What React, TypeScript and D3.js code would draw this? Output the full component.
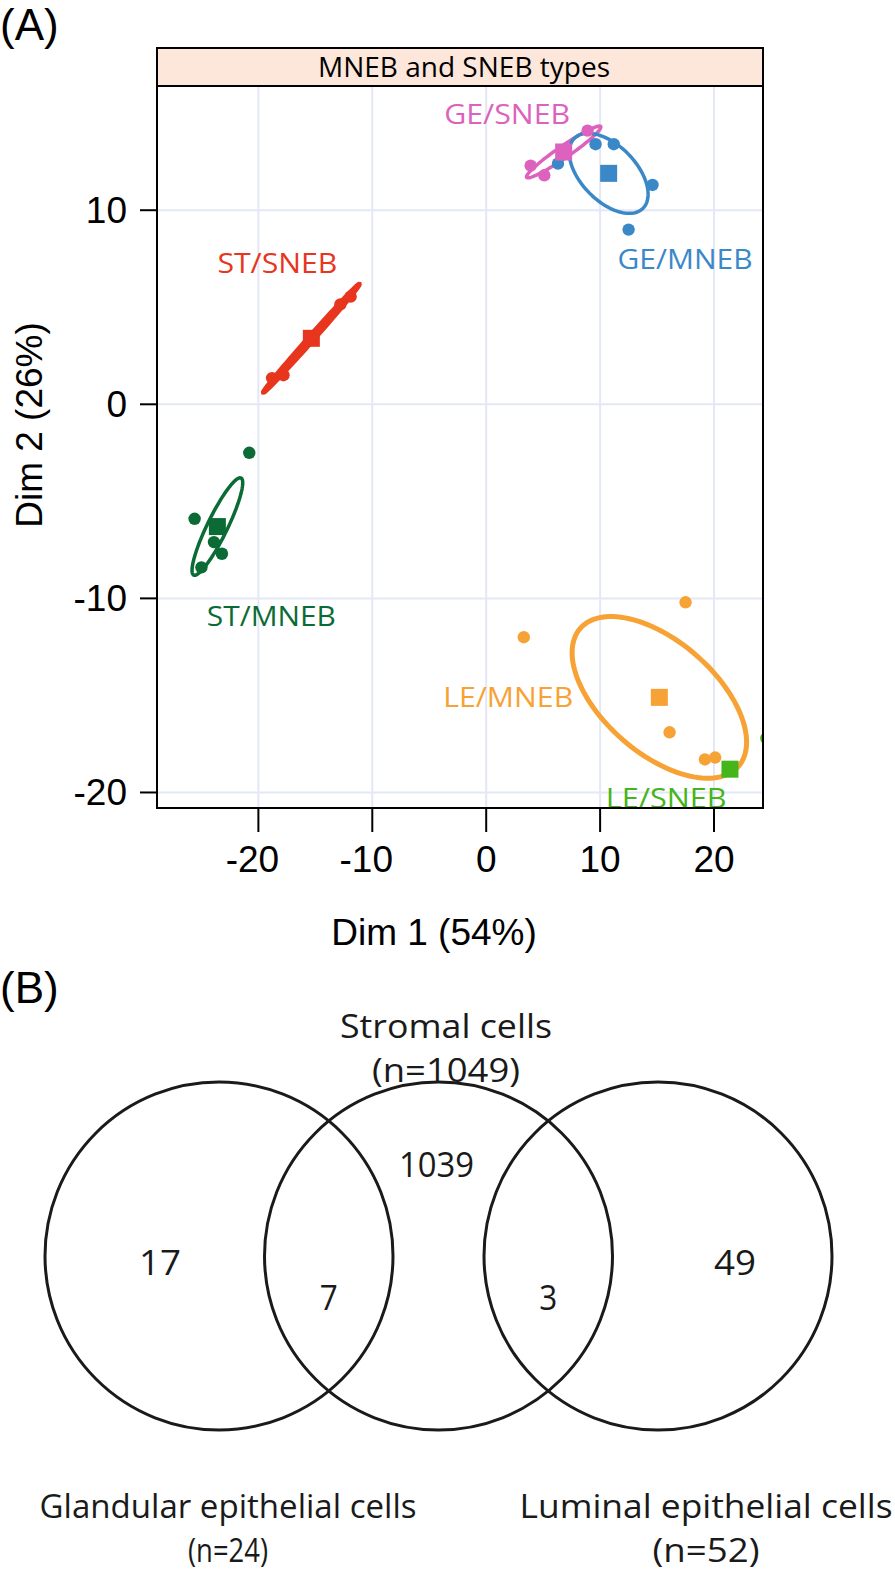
import React from "react";
import * as d3 from "d3";

// ---------- Panel A data ----------
const groups = ["GE/SNEB", "GE/MNEB", "ST/SNEB", "ST/MNEB", "LE/MNEB", "LE/SNEB"];
const groupColors = ["#dc62bd", "#3a88c8", "#e8351e", "#0b6b34", "#f7a235", "#45b51b"];

const ptsGESNEB: [number, number][] = [[3.9, 12.3], [5.1, 11.8], [8.9, 14.1]];
const ptsGEMNEB: [number, number][] = [[6.3, 12.4], [9.6, 13.4], [11.2, 13.4], [14.6, 11.3], [12.5, 9.0]];
const ptsSTSNEB: [number, number][] = [[-18.8, 1.35], [-17.8, 1.5], [-12.8, 5.15], [-11.9, 5.55]];
const ptsSTMNEB: [number, number][] = [[-20.8, -2.5], [-25.6, -5.9], [-23.9, -7.1], [-23.2, -7.7], [-25.0, -8.4]];
const ptsLEMNEB: [number, number][] = [[3.3, -12.0], [17.5, -10.2], [16.1, -16.9], [19.2, -18.3], [20.1, -18.2]];
const ptsLESNEB: [number, number][] = [[24.6, -17.2]];
const groupPoints = [ptsGESNEB, ptsGEMNEB, ptsSTSNEB, ptsSTMNEB, ptsLEMNEB, ptsLESNEB];

const centroids: [number, number][] = [[6.8, 13.0], [10.75, 11.9], [-15.35, 3.4], [-23.6, -6.3], [15.2, -15.1], [21.4, -18.8]];

// confidence ellipses: half-axis vectors in data units
const ellipseA: ([number, number] | null)[] = [[3.25, 1.31], [3.0, -1.81], [4.2, 2.78], [2.08, 2.5], [6.95, -3.55], null];
const ellipseB: ([number, number] | null)[] = [[0.3, -0.25], [-1.73, -0.99], [0.16, -0.09], [0.79, -0.23], [-3.22, -2.18], null];

const labelPos: [number, number][] = [[1.84, 14.95], [17.46, 7.47], [-18.33, 7.27], [-18.86, -10.93], [1.93, -15.1], [15.8, -20.3]];

const xTicks = [-20, -10, 0, 10, 20];
const yTicks = [10, 0, -10, -20];
const xDomain: [number, number] = [-28.9, 24.3];
const yDomain: [number, number] = [-20.8, 16.4];

// ---------- Panel B data ----------
const vennSets = ["Glandular epithelial cells", "Stromal cells", "Luminal epithelial cells"];
const vennSetN = [24, 1049, 52];
const vennRegionValues = [17, 7, 1039, 3, 49];

export default function App() {
  const W = 895, H = 1570;
  const L = 157, R = 763, T = 86, B = 808, headerTop = 48;
  const x = d3.scaleLinear().domain(xDomain).range([L, R]);
  const y = d3.scaleLinear().domain(yDomain).range([B, T]);
  const sans = "'Liberation Sans', Arial, sans-serif";
  const myr = "'Open Sans', 'Noto Sans', sans-serif";

  const ellipsePath = (i: number) => {
    const a = ellipseA[i], b = ellipseB[i];
    if (!a || !b) return null;
    const c = centroids[i];
    const ts = d3.range(0, 361, 3).map((d) => (d * Math.PI) / 180);
    const line = d3.line<number>()
      .x((t) => x(c[0] + a[0] * Math.cos(t) + b[0] * Math.sin(t)))
      .y((t) => y(c[1] + a[1] * Math.cos(t) + b[1] * Math.sin(t)))
      .curve(d3.curveLinearClosed);
    return line(ts);
  };

  const labelWidths = [126, 135, 120, 129, 130, 121];
  const sq = 17;

  // venn geometry
  const r = 174;
  const cy = 1256;
  const cxScale = d3.scaleLinear().domain([0, 2]).range([219, 658]);
  const cxs = vennSets.map((_, i) => cxScale(i));
  const regionPos: [number, number][] = [
    [cxs[0] - 59, cy + 7],
    [(cxs[0] + cxs[1]) / 2, cy + 42],
    [cxs[1] - 2, cy - 91],
    [(cxs[1] + cxs[2]) / 2, cy + 42],
    [cxs[2] + 77, cy + 7],
  ];
  const regionW = [42, 18, 75, 18, 42];
  const setLabelPos: [number, number, number][] = [
    [228, 1518, 377],
    [446, 1038, 212],
    [706, 1518, 373],
  ];
  const setNW = [80, 148, 107];

  return (
    <svg width={W} height={H} style={{ position: "absolute", left: 0, top: 0, background: "#fff" }}>
      <defs>
        <clipPath id="plotClip">
          <rect x={L} y={T} width={R - L} height={B - T} />
        </clipPath>
      </defs>
      <rect x={0} y={0} width={W} height={H} fill="#fff" />
      <text x={0} y={40} fontFamily={sans} fontSize={44} fill="#000">(A)</text>

      {/* header strip */}
      <rect x={L} y={headerTop} width={R - L} height={T - headerTop} fill="#fde6da" stroke="#000" strokeWidth={2} />
      <text x={(L + R) / 2 + 4} y={77} textAnchor="middle" fontFamily={myr} fontSize={27} textLength={292} lengthAdjust="spacingAndGlyphs" fill="#000">MNEB and SNEB types</text>

      {/* grid */}
      {xTicks.map((t) => (
        <line key={"gx" + t} x1={x(t)} x2={x(t)} y1={T} y2={B} stroke="#e3e7f6" strokeWidth={2} />
      ))}
      {yTicks.map((t) => (
        <line key={"gy" + t} x1={L} x2={R} y1={y(t)} y2={y(t)} stroke="#e3e7f6" strokeWidth={2} />
      ))}

      <g clipPath="url(#plotClip)">
        {groups.map((g, i) => {
          const p = ellipsePath(i);
          return p ? (
            <path key={"e" + g} d={p} fill="none" stroke={groupColors[i]} strokeWidth={i === 2 ? 5 : i === 4 ? 5 : 3.5} />
          ) : null;
        })}
        {groups.map((g, i) =>
          groupPoints[i].map((pt, j) => (
            <circle key={g + j} cx={x(pt[0])} cy={y(pt[1])} r={6.2} fill={groupColors[i]} />
          ))
        )}
        {groups.map((g, i) => (
          <rect key={"s" + g} x={x(centroids[i][0]) - sq / 2} y={y(centroids[i][1]) - sq / 2} width={sq} height={sq} fill={groupColors[i]} />
        ))}
        {groups.map((g, i) => (
          <text key={"l" + g} x={x(labelPos[i][0])} y={y(labelPos[i][1]) + 10} textAnchor="middle" fontFamily={myr} fontSize={28} textLength={labelWidths[i]} lengthAdjust="spacingAndGlyphs" fill={groupColors[i]}>{g}</text>
        ))}
      </g>

      {/* plot frame */}
      <rect x={L} y={T} width={R - L} height={B - T} fill="none" stroke="#000" strokeWidth={2} />

      {/* axes ticks */}
      {yTicks.map((t) => (
        <g key={"yt" + t}>
          <line x1={L - 17} x2={L} y1={y(t)} y2={y(t)} stroke="#000" strokeWidth={2} />
          <text x={L - 30} y={y(t) + 13} textAnchor="end" fontFamily={sans} fontSize={37} fill="#000">{t}</text>
        </g>
      ))}
      {xTicks.map((t) => (
        <g key={"xt" + t}>
          <line x1={x(t)} x2={x(t)} y1={B} y2={B + 24} stroke="#000" strokeWidth={2} />
          <text x={x(t) - (t < 0 ? 6 : 0)} y={872} textAnchor="middle" fontFamily={sans} fontSize={37} fill="#000">{t}</text>
        </g>
      ))}
      <text x={434} y={945} textAnchor="middle" fontFamily={sans} fontSize={37} fill="#000">Dim 1 (54%)</text>
      <text transform={`translate(42,425) rotate(-90)`} textAnchor="middle" fontFamily={sans} fontSize={37} fill="#000">Dim 2 (26%)</text>

      {/* Panel B */}
      <text x={0} y={1003} fontFamily={sans} fontSize={44} fill="#000">(B)</text>
      {cxs.map((cx, i) => (
        <circle key={"vc" + i} cx={cx} cy={cy} r={r} fill="none" stroke="#1a1a1a" strokeWidth={3} />
      ))}
      {vennRegionValues.map((v, i) => (
        <text key={"rv" + i} x={regionPos[i][0]} y={regionPos[i][1] + 12} textAnchor="middle" fontFamily={myr} fontSize={34} textLength={regionW[i]} lengthAdjust="spacingAndGlyphs" fill="#1a1a1a">{v}</text>
      ))}
      {vennSets.map((s, i) => (
        <g key={"vs" + i}>
          <text x={setLabelPos[i][0]} y={setLabelPos[i][1]} textAnchor="middle" fontFamily={myr} fontSize={32} textLength={setLabelPos[i][2]} lengthAdjust="spacingAndGlyphs" fill="#1a1a1a">{s}</text>
          <text x={setLabelPos[i][0]} y={setLabelPos[i][1] + 44} textAnchor="middle" fontFamily={myr} fontSize={32} textLength={setNW[i]} lengthAdjust="spacingAndGlyphs" fill="#1a1a1a">{`(n=${vennSetN[i]})`}</text>
        </g>
      ))}
    </svg>
  );
}
